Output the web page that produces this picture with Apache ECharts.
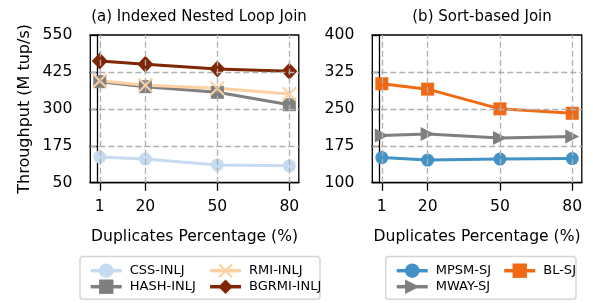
<!DOCTYPE html>
<html>
<head>
<meta charset="utf-8">
<script src="https://cdn.jsdelivr.net/npm/echarts@6/dist/echarts.min.js"></script>
<style>
  html, body { margin: 0; padding: 0; background: #fff; }
  #chart1 { width: 593px; height: 303px; }
</style>
</head>
<body>
<div id="chart1"></div>
<script>
// duplicates percentage on the x axis
const dupPct = [1, 20, 50, 80];

// (a) indexed nested loop join
const cssInlj = [137, 130, 110, 107];
const hashInlj = [392, 375, 356, 314];
const rmiInlj = [395, 380, 370, 350];
const bgrmiInlj = [462, 451, 435, 427];
const ticksA = [50, 175, 300, 425, 550];

// (b) sort-based join
const mpsmSj = [151, 146, 148, 149];
const mwaySj = [196, 199, 191, 194];
const blSj = [301, 290, 250, 241];
const ticksB = [100, 175, 250, 325, 400];

const FONT = 'DejaVu Sans';
const xMark = 'path://M0,1 L1,0 L5,4 L9,0 L10,1 L6,5 L10,9 L9,10 L5,6 L1,10 L0,9 L4,5 Z';

let chart1;

const pairs = (ys) => dupPct.map((x, i) => [x, ys[i]]);

const mkSeries = (name, ys, color, symbol, size, idx, extra) => {
    return Object.assign({
        name: name,
        type: 'line',
        xAxisIndex: idx,
        yAxisIndex: idx,
        data: pairs(ys),
        symbol: symbol,
        symbolSize: size,
        showAllSymbol: true,
        lineStyle: { color: color, width: 3 },
        itemStyle: { color: color },
        emphasis: { disabled: true },
        animation: false
    }, extra || {});
};

const gridLines = (idx, yTicks) => ({
    name: 'grid' + idx,
    type: 'line',
    xAxisIndex: idx,
    yAxisIndex: idx,
    data: [],
    silent: true,
    z: 1,
    markLine: {
        silent: true,
        symbol: 'none',
        label: { show: false },
        animation: false,
        lineStyle: { color: '#b0b0b0', type: [6, 3], width: 1.3 },
        data: dupPct.map(v => ({ xAxis: v })).concat(yTicks.slice(1, -1).map(v => ({ yAxis: v })))
    }
});

const mkX = (idx) => ({
    type: 'value',
    gridIndex: idx,
    min: -2.95,
    max: 83.95,
    name: 'Duplicates Percentage (%)',
    nameLocation: 'middle',
    nameGap: 46,
    nameTextStyle: { fontFamily: FONT, fontSize: 15.6, color: '#000' },
    axisLine: { show: true, lineStyle: { color: '#000', width: 1.3 } },
    axisTick: { show: true, customValues: dupPct, length: 8, lineStyle: { color: '#000', width: 1.3 } },
    axisLabel: { customValues: dupPct, margin: 16, fontFamily: FONT, fontSize: 15.6, color: '#000' },
    splitLine: { show: false }
});

const mkY = (idx, ticks, name) => ({
    type: 'value',
    gridIndex: idx,
    min: ticks[0],
    max: ticks[ticks.length - 1],
    name: name,
    nameLocation: 'middle',
    nameGap: 57,
    nameTextStyle: { fontFamily: FONT, fontSize: 16, color: '#000' },
    axisLine: { show: true, lineStyle: { color: '#000', width: 1.3 } },
    axisTick: { show: true, customValues: ticks, length: 8, lineStyle: { color: '#000', width: 1.3 } },
    axisLabel: { customValues: ticks, margin: 18, fontFamily: FONT, fontSize: 15.6, color: '#000' },
    splitLine: { show: false }
});

const legendCol = (names, left) => ({
    orient: 'vertical',
    left: left,
    top: 258.5,
    itemWidth: 31,
    itemHeight: 18,
    itemGap: 1.6,
    selectedMode: false,
    lineStyle: { width: 3.5 },
    textStyle: { fontFamily: FONT, fontSize: 13, color: '#000', padding: [0, 0, 0, 3] },
    data: names
});

const getOptionChart1 = () => {
    return {
        backgroundColor: '#fff',
        animation: false,
        title: [
            { text: '(a) Indexed Nested Loop Join', left: 194, top: 5, textAlign: 'center',
              textStyle: { fontFamily: FONT, fontSize: 15, fontWeight: 'normal', color: '#000' } },
            { text: '(b) Sort-based Join', left: 477, top: 5, textAlign: 'center',
              textStyle: { fontFamily: FONT, fontSize: 15, fontWeight: 'normal', color: '#000' } }
        ],
        grid: [
            { left: 90.3, top: 35, width: 208.5, height: 147.7, show: true, borderColor: '#000', borderWidth: 1.3 },
            { left: 372.3, top: 35, width: 209.5, height: 147.7, show: true, borderColor: '#000', borderWidth: 1.3 }
        ],
        xAxis: [mkX(0), mkX(1)],
        yAxis: [mkY(0, ticksA, 'Throughput (M tup/s)'), mkY(1, ticksB, '')],
        legend: [
            legendCol(['CSS-INLJ', 'HASH-INLJ'], 84),
            legendCol(['RMI-INLJ', 'BGRMI-INLJ'], 203.3),
            legendCol(['MPSM-SJ', 'MWAY-SJ'], 390),
            legendCol(['BL-SJ'], 497.5)
        ],
        graphic: [
            { type: 'rect', z: -1, shape: { x: 80, y: 256.5, width: 240, height: 42.8, r: 3 },
              style: { fill: '#fff', stroke: '#d6d6d6', lineWidth: 1.5 } },
            { type: 'rect', z: -1, shape: { x: 385.7, y: 256.5, width: 190.3, height: 42.8, r: 3 },
              style: { fill: '#fff', stroke: '#d6d6d6', lineWidth: 1.5 } }
        ],
        series: [
            gridLines(0, ticksA),
            gridLines(1, ticksB),
            mkSeries('CSS-INLJ', cssInlj, '#c6dbef', 'circle', 13, 0),
            mkSeries('HASH-INLJ', hashInlj, '#7f7f7f', 'rect', 13, 0),
            mkSeries('RMI-INLJ', rmiInlj, '#fdd0a2', xMark, 15, 0),
            mkSeries('BGRMI-INLJ', bgrmiInlj, '#7f2704', 'diamond', [16, 17], 0),
            mkSeries('MPSM-SJ', mpsmSj, '#4292c6', 'circle', 13, 1),
            mkSeries('MWAY-SJ', mwaySj, '#7f7f7f', 'triangle', 14, 1, { symbolRotate: -90 }),
            mkSeries('BL-SJ', blSj, '#f16913', 'rect', 13, 1)
        ]
    };
};

const initCharts = () => {
    chart1 = echarts.init(document.getElementById('chart1'));
    chart1.setOption(getOptionChart1());
};

document.addEventListener('DOMContentLoaded', function () {
    initCharts();
});

window.addEventListener('resize', function () {
    chart1.resize();
});
</script>
</body>
</html>
